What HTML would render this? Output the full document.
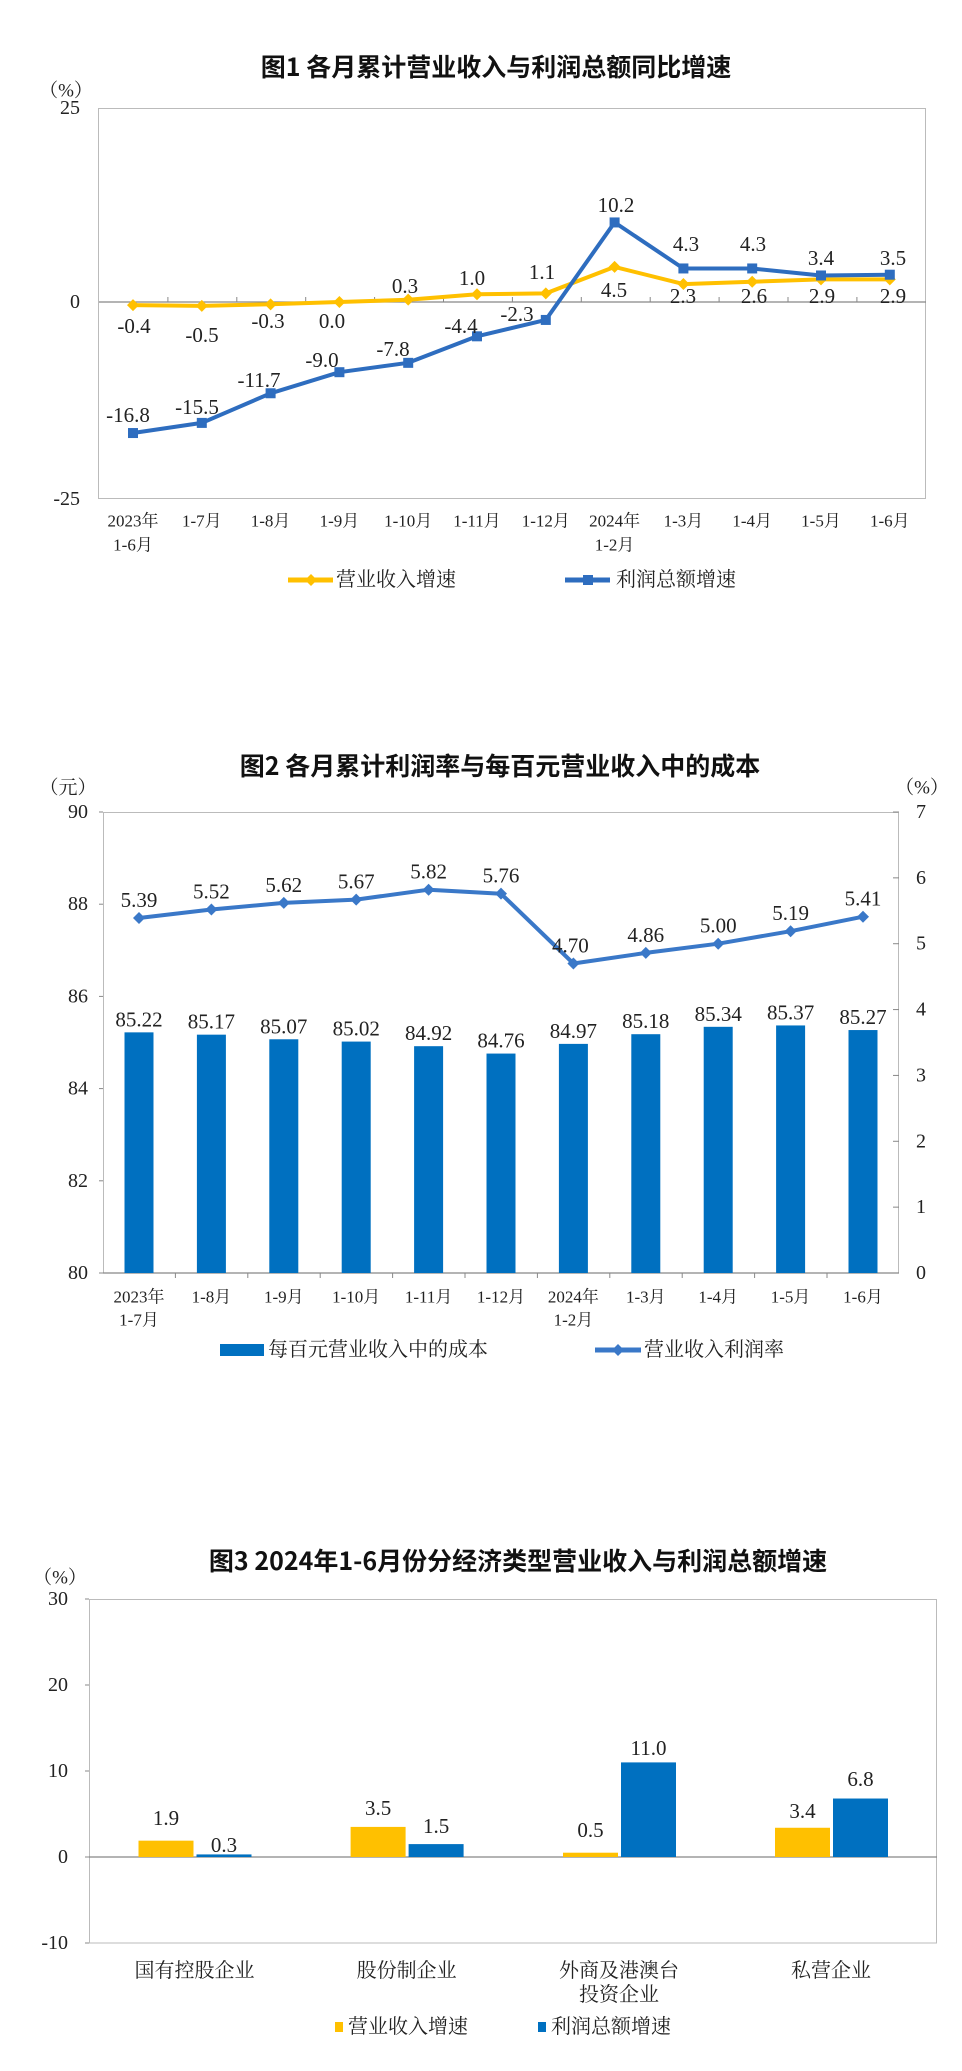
<!DOCTYPE html>
<html><head><meta charset="utf-8">
<style>
html,body{margin:0;padding:0;background:#fff;}
svg{display:block;}
.t{font-family:"Noto Sans CJK SC","WenQuanYi Zen Hei",sans-serif;font-weight:bold;fill:#111;}
.s{font-family:"Liberation Serif","Noto Serif CJK SC","Noto Sans CJK SC",serif;fill:#222;}
</style></head>
<body>
<svg id="c" width="962" height="2071" viewBox="0 0 962 2071" xmlns="http://www.w3.org/2000/svg"></svg>
<script>
var o='';
function T(x,y,s,size,anchor,cls){o+='<text class="'+(cls||'s')+'" x="'+x+'" y="'+y+'" font-size="'+size+'" text-anchor="'+(anchor||'middle')+'" dominant-baseline="central">'+s+'</text>';}
function L(x1,y1,x2,y2,c,w){o+='<line x1="'+x1+'" y1="'+y1+'" x2="'+x2+'" y2="'+y2+'" stroke="'+c+'" stroke-width="'+w+'"/>';}
function R(x,y,w,h,c){o+='<rect x="'+x+'" y="'+y+'" width="'+w+'" height="'+h+'" fill="'+c+'"/>';}
function P(pts,c,w){o+='<polyline points="'+pts.map(function(p){return p[0].toFixed(1)+','+p[1].toFixed(1)}).join(' ')+'" fill="none" stroke="'+c+'" stroke-width="'+w+'" stroke-linejoin="round"/>';}
function D(x,y,r,c){o+='<polygon points="'+x+','+(y-r)+' '+(x+r)+','+y+' '+x+','+(y+r)+' '+(x-r)+','+y+'" fill="'+c+'"/>';}
var Y='#FFC000',B='#2E6DBF',B2='#0070C0',G='#999';

// ===== Chart 1 =====
T(496,66,'图1  各月累计营业收入与利润总额同比增速',25,'middle','t');
T(66,91,'（%）',19);
o+='<rect x="98.5" y="108.5" width="827" height="390" fill="none" stroke="#bbb" stroke-width="1"/>';
var z1=302,k1=7.8;
L(99,z1,926,z1,'#888',1.3);
for(var i=1;i<12;i++){var tx=99+i*68.9;L(tx,z1-5,tx,z1,'#888',1);}
T(80,108,'25',20,'end');T(80,z1,'0',20,'end');T(80,499,'-25',20,'end');
var rev=[-0.4,-0.5,-0.3,0.0,0.3,1.0,1.1,4.5,2.3,2.6,2.9,2.9];
var pro=[-16.8,-15.5,-11.7,-9.0,-7.8,-4.4,-2.3,10.2,4.3,4.3,3.4,3.5];
var xs1=[];for(i=0;i<12;i++)xs1.push(133+i*68.8);
P(xs1.map(function(x,i){return [x,z1-rev[i]*k1]}),Y,4);
P(xs1.map(function(x,i){return [x,z1-pro[i]*k1]}),B,4);
for(i=0;i<12;i++){D(xs1[i],z1-rev[i]*k1,6,Y);R(xs1[i]-5,z1-pro[i]*k1-5,10,10,B);}
var rl=[[134,326],[202,335],[268,321],[332,321],[405,286],[472,278],[542,272],[614,290],[683,296],[754,296],[822,296],[893,296]];
var rs=['-0.4','-0.5','-0.3','0.0','0.3','1.0','1.1','4.5','2.3','2.6','2.9','2.9'];
for(i=0;i<12;i++)T(rl[i][0],rl[i][1],rs[i],21);
var pl=[[128,415],[197,407],[259,380],[322,360],[393,349],[461,326],[517,314],[616,205],[686,244],[753,244],[821,258],[893,258]];
var ps=['-16.8','-15.5','-11.7','-9.0','-7.8','-4.4','-2.3','10.2','4.3','4.3','3.4','3.5'];
for(i=0;i<12;i++)T(pl[i][0],pl[i][1],ps[i],21);
var xl1=['2023年','1-7月','1-8月','1-9月','1-10月','1-11月','1-12月','2024年','1-3月','1-4月','1-5月','1-6月'];
for(i=0;i<12;i++)T(xs1[i],521,xl1[i],17);
T(xs1[0],545,'1-6月',17);T(xs1[7],545,'1-2月',17);
L(288,580,333,580,Y,5);D(311,580,6,Y);T(336,580,'营业收入增速',20,'start');
L(565,580,610,580,B,5);R(583,575,10,10,B);T(616,580,'利润总额增速',20,'start');

// ===== Chart 2 =====
T(500,765,'图2  各月累计利润率与每百元营业收入中的成本',25,'middle','t');
T(68,788,'（元）',19);T(922,788,'（%）',19);
var top2=812,bot2=1273,kl=(bot2-top2)/10,kr=(bot2-top2)/7;
o+='<rect x="103.5" y="812.5" width="795" height="460.5" fill="none" stroke="#bbb" stroke-width="1"/>';
L(103,bot2,899,bot2,'#888',1.3);
for(i=0;i<=5;i++){var yy=bot2-i*2*kl;T(88,yy,String(80+i*2),20,'end');L(99,yy,103,yy,'#888',1);}
for(i=0;i<=7;i++){var yy=bot2-i*kr;T(921,yy,String(i),20,'middle');L(893,yy,899,yy,'#888',1);}
var cost=[85.22,85.17,85.07,85.02,84.92,84.76,84.97,85.18,85.34,85.37,85.27];
var rate=[5.39,5.52,5.62,5.67,5.82,5.76,4.70,4.86,5.00,5.19,5.41];
var xs2=[];for(i=0;i<11;i++)xs2.push(139+i*72.4);
for(i=1;i<11;i++){var tx=103+i*72.4;L(tx,bot2,tx,bot2+5,'#888',1);}
for(i=0;i<11;i++){var ty=bot2-(cost[i]-80)*kl;R(xs2[i]-14.5,ty,29,bot2-ty,B2);T(xs2[i],ty-13,cost[i].toFixed(2),21);}
P(xs2.map(function(x,i){return [x,bot2-rate[i]*kr]}),'#3A78C8',4);
for(i=0;i<11;i++){var ry=bot2-rate[i]*kr;D(xs2[i],ry,6,'#3A78C8');T(xs2[i]+(i==6?-3:0),ry-18,rate[i].toFixed(2),21);}
var xl2=['2023年','1-8月','1-9月','1-10月','1-11月','1-12月','2024年','1-3月','1-4月','1-5月','1-6月'];
for(i=0;i<11;i++)T(xs2[i],1297,xl2[i],17);
T(xs2[0],1320,'1-7月',17);T(xs2[6],1320,'1-2月',17);
R(220,1344,44,12,B2);T(268,1350,'每百元营业收入中的成本',20,'start');
L(595,1350,641,1350,'#3A78C8',5);D(618,1350,6,'#3A78C8');T(644,1350,'营业收入利润率',20,'start');

// ===== Chart 3 =====
T(518,1560,'图3  2024年1-6月份分经济类型营业收入与利润总额增速',25,'middle','t');
T(60,1578,'（%）',19);
var z3=1857,k3=8.6;
o+='<rect x="89.5" y="1599.5" width="847" height="343.5" fill="none" stroke="#bbb" stroke-width="1"/>';
L(89,z3,937,z3,'#888',1.3);
var tv=[30,20,10,0,-10];for(i=0;i<5;i++){var yy=z3-tv[i]*k3;T(68,yy,String(tv[i]),20,'end');L(85,yy,89,yy,'#888',1);}
var yv=[1.9,3.5,0.5,3.4],bv=[0.3,1.5,11.0,6.8],gc=[194.5,406.6,619,831];
var ylab=[1818,1808,1830,1811],blab=[1845,1826,1748,1779];
for(i=0;i<4;i++){
 var yt=z3-yv[i]*k3,bt=z3-bv[i]*k3;
 R(gc[i]-56,yt,55,z3-yt,Y);R(gc[i]+2,bt,55,z3-bt,B2);
 T(gc[i]-28.5,ylab[i],yv[i].toFixed(1),21);T(gc[i]+29.5,blab[i],bv[i].toFixed(1),21);
}
T(gc[0],1971,'国有控股企业',20);T(gc[1],1971,'股份制企业',20);
T(gc[2],1971,'外商及港澳台',20);T(gc[2],1995,'投资企业',20);T(gc[3],1971,'私营企业',20);
R(335,2022,8,10,Y);T(348,2027,'营业收入增速',20,'start');
R(538,2022,8,10,B2);T(551,2027,'利润总额增速',20,'start');

document.getElementById('c').innerHTML=o;
</script>
</body></html>
